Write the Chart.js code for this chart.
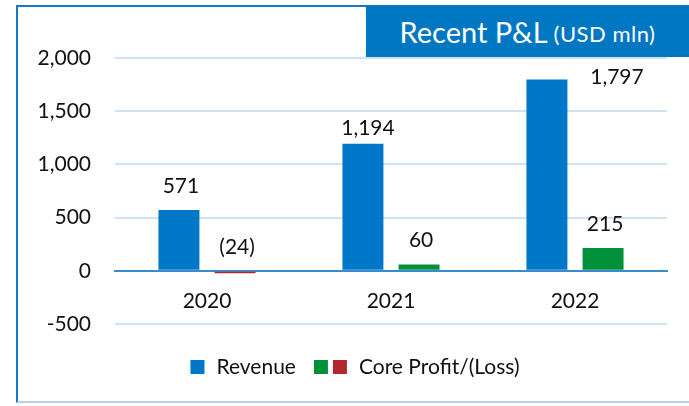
<!DOCTYPE html>
<html>
<head>
<meta charset="utf-8">
<script src="https://cdn.jsdelivr.net/npm/chart.js@4.4.1/dist/chart.umd.min.js"></script>
<style>
    html, body { margin: 0; padding: 0; background: #ffffff; }
    #wrap { position: relative; width: 689px; height: 406px; overflow: hidden; font-family: Lato, sans-serif; }
    #frame { position: absolute; left: 16px; top: 5px; width: 673px; height: 398px;
        border-left: 2px solid #1478c4; border-top: 2px solid #1478c4; border-bottom: 2px solid #b8d2e6; box-sizing: border-box; }
    #title { position: absolute; left: 366px; top: 5px; width: 323px; height: 52px; background: #0077c2;
        color: #ffffff; display: flex; align-items: center; justify-content: center; white-space: nowrap; }
    #title .big { font-size: 29px; }
    #title .small { font-size: 22px; letter-spacing: 0.5px; margin-left: 6px; margin-top: 4px; }
    canvas { position: absolute; left: 0; top: 0; }
</style>
</head>
<body>
<div id="wrap">
    <div id="frame"></div>
    <canvas id="plChart" width="689" height="406"></canvas>
    <div id="title"><span class="big">Recent P&amp;L</span><span class="small">(USD mln)</span></div>
</div>
<script>
const years = ['2020', '2021', '2022'];
const revenue = [571, 1194, 1797];
const coreProfit = [-24, 60, 215];
const yTicks = [-500, 0, 500, 1000, 1500, 2000];

const BLUE = '#0077c8';
const GREEN = '#00913a';
const RED = '#b3262f';
const FONT = 'Lato, sans-serif';

// Excel style: thousands separator, losses in brackets
function fmt(v) {
    const s = Math.abs(v).toLocaleString('en-US');
    return v < 0 ? `(${s})` : s;
}

// hand-moved labels in the original (dataset-index)
const labelNudge = { '0-1': [3, 8], '0-2': [68, 22] };

const valueLabels = {
    id: 'valueLabels',
    afterDatasetsDraw(chart) {
        const ctx = chart.ctx;
        const zeroY = chart.scales.y.getPixelForValue(0);
        ctx.save();
        ctx.font = `21px ${FONT}`;
        ctx.fillStyle = '#111111';
        ctx.textAlign = 'center';
        ctx.textBaseline = 'middle';
        chart.data.datasets.forEach((ds, di) => {
            chart.getDatasetMeta(di).data.forEach((bar, i) => {
                const nudge = labelNudge[di + '-' + i] || [0, 0];
                const top = Math.min(bar.y, zeroY);
                ctx.fillText(fmt(ds.data[i]), bar.x + 2 + nudge[0], top - 24 + nudge[1]);
            });
        });
        ctx.restore();
    }
};

// legend: Revenue, then green + red swatch for Core Profit/(Loss)
const legendItems = [
    { swatches: [BLUE], text: 'Revenue' },
    { swatches: [GREEN, RED], text: 'Core Profit/(Loss)' }
];

const customLegend = {
    id: 'customLegend',
    afterDraw(chart) {
        const ctx = chart.ctx;
        const box = 14, swGap = 5, textGap = 12, itemGap = 18;
        ctx.save();
        ctx.font = `21px ${FONT}`;
        ctx.textBaseline = 'middle';
        let total = 0;
        legendItems.forEach((it, k) => {
            total += it.swatches.length * box + (it.swatches.length - 1) * swGap + textGap + ctx.measureText(it.text).width;
            if (k > 0) total += itemGap;
        });
        let x = 355 - total / 2;
        const y = 367;
        legendItems.forEach(it => {
            it.swatches.forEach(c => {
                ctx.fillStyle = c;
                ctx.fillRect(x, y - box / 2, box, box);
                x += box + swGap;
            });
            x += textGap - swGap;
            ctx.fillStyle = '#111111';
            ctx.fillText(it.text, x, y);
            x += ctx.measureText(it.text).width + itemGap;
        });
        ctx.restore();
    }
};

new Chart(document.getElementById('plChart'), {
    type: 'bar',
    data: {
        labels: years,
        datasets: [{
            label: 'Revenue',
            data: revenue,
            backgroundColor: BLUE
        }, {
            label: 'Core Profit/(Loss)',
            data: coreProfit,
            backgroundColor: c => (c.raw < 0 ? RED : GREEN)
        }]
    },
    options: {
        responsive: false,
        animation: false,
        layout: { padding: { top: 58, bottom: 82, right: 22, left: 0 } },
        datasets: {
            bar: { categoryPercentage: 0.61, barPercentage: 0.73 }
        },
        scales: {
            x: {
                position: { y: 0 },
                grid: { display: false, drawTicks: false },
                border: { display: true, color: '#3a8bcc', width: 2 },
                ticks: { color: '#111111', font: { family: FONT, size: 21 }, padding: 18 }
            },
            y: {
                min: -500,
                max: 2000,
                afterBuildTicks: s => { s.ticks = yTicks.map(v => ({ value: v })); },
                afterFit: s => { s.width = 115; },
                grid: {
                    drawTicks: false,
                    color: c => (c.tick && c.tick.value === 0 ? '#3a8bcc' : '#cfe3f4'),
                    lineWidth: 2
                },
                border: { display: false },
                ticks: {
                    color: '#111111',
                    font: { family: FONT, size: 21 },
                    padding: 24,
                    callback: v => v.toLocaleString('en-US')
                }
            }
        },
        plugins: {
            legend: { display: false },
            tooltip: { enabled: false }
        }
    },
    plugins: [valueLabels, customLegend]
});
</script>
</body>
</html>
